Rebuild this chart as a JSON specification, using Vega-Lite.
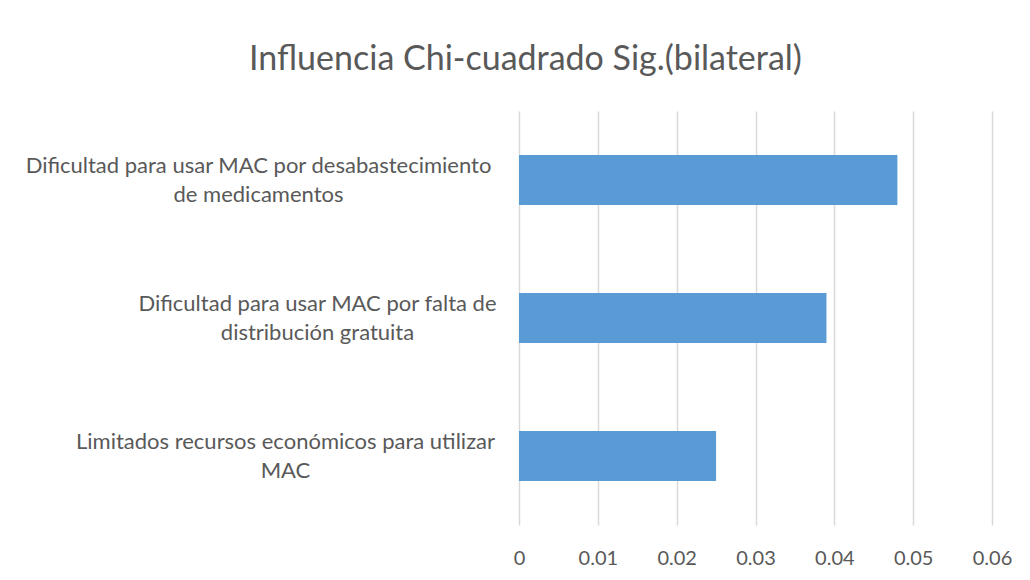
{
  "$schema": "https://vega.github.io/schema/vega-lite/v6.json",
  "autosize": "none",
  "width": 473,
  "height": 414,
  "padding": {"left": 519, "top": 111, "right": 38, "bottom": 55},
  "background": "white",
  "title": {
    "text": "Influencia Chi-cuadrado Sig.(bilateral)",
    "anchor": "middle",
    "frame": "group",
    "dx": -230,
    "offset": 7,
    "baseline": "alphabetic",
    "font": "Lato",
    "fontSize": 34,
    "fontWeight": "normal",
    "color": "#595959"
  },
  "data": {
    "values": [
      {"factor": "Dificultad para usar MAC por desabastecimiento de medicamentos", "sig": 0.048},
      {"factor": "Dificultad para usar MAC por falta de distribución gratuita", "sig": 0.039},
      {"factor": "Limitados recursos económicos para utilizar MAC", "sig": 0.025}
    ]
  },
  "mark": {"type": "bar", "color": "#5B9BD5"},
  "encoding": {
    "y": {
      "field": "factor",
      "type": "nominal",
      "sort": null,
      "title": null,
      "scale": {"paddingInner": 0.638, "paddingOuter": 0.319},
      "axis": {
        "domain": false,
        "ticks": false,
        "grid": false,
        "labelFont": "Lato",
        "labelFontSize": 22,
        "labelColor": "#595959",
        "labelAlign": "center",
        "labelBaseline": "middle",
        "labelLineHeight": 29,
        "labelOffset": -14,
        "labelPadding": {"expr": "indexof(datum.value, 'desabastecimiento') >= 0 ? 261 : indexof(datum.value, 'gratuita') >= 0 ? 202 : 234"},
        "labelLimit": 0,
        "labelExpr": "datum.value == 'Dificultad para usar MAC por desabastecimiento de medicamentos' ? ['Dificultad para usar MAC por desabastecimiento', 'de medicamentos'] : datum.value == 'Dificultad para usar MAC por falta de distribución gratuita' ? ['Dificultad para usar MAC por falta de', 'distribución gratuita'] : ['Limitados recursos económicos para utilizar', 'MAC']"
      }
    },
    "x": {
      "field": "sig",
      "type": "quantitative",
      "title": null,
      "scale": {"domain": [0, 0.06], "nice": false},
      "axis": {
        "values": [0, 0.01, 0.02, 0.03, 0.04, 0.05, 0.06],
        "format": "~g",
        "domain": false,
        "ticks": false,
        "grid": true,
        "gridColor": "#d9d9d9",
        "gridWidth": 1.5,
        "labelFont": "Lato",
        "labelFontSize": 20,
        "labelColor": "#595959",
        "labelPadding": 23,
        "labelFlush": false
      }
    }
  },
  "config": {"view": {"stroke": null}}
}
